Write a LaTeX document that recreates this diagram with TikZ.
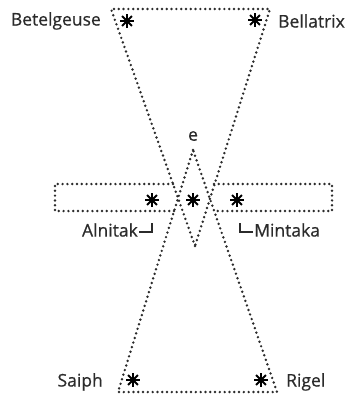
\documentclass[tikz,border=0pt]{standalone}
\usepackage{fontspec}
\setmainfont{Open Sans}
\newfontfamily\labelfont{Open Sans}[FakeBold=0.6]
\definecolor{ink}{HTML}{2B2B2B}
\tikzset{
  dotline/.style={draw=ink, line width=2.7pt, line cap=round, dash pattern=on 0pt off 4.8pt},
  starmark/.style={circle, minimum size=15pt, inner sep=0pt, path picture={
    \foreach \a in {0,45,90,135}
      \draw[line width=1.8pt] (path picture bounding box.center) ++(\a:7pt) -- ++(\a+180:14pt);
    \fill (path picture bounding box.center) circle (2.8pt);}},
  starname/.style={text=ink, font=\labelfont\fontsize{17.5}{17.5}\selectfont, inner sep=0pt},
  hook/.style={draw=ink, line width=1.6pt}
}
\begin{document}
\begin{tikzpicture}[x=1pt, y=-1pt]
\useasboundingbox (0,0) rectangle (352,399);
% triangolo superiore
\coordinate (tl) at (111,9);
\coordinate (tr) at (270,9);
\coordinate (tapex) at (195,246);
\draw[dotline] (tapex) -- (tl) -- (tr) -- cycle;
% triangolo inferiore
\coordinate (bl) at (118,392);
\coordinate (br) at (277,392);
\coordinate (bapex) at (193,150);
\draw[dotline] (bapex) -- (bl) -- (br) -- cycle;
% cintura
\draw[dotline] (173,184) -- (55,184) -- (55,211) -- (174,211);
\draw[dotline] (214,184) -- (332,184) -- (332,211) -- (214,211);
% stelle
\node[starmark] (betelgeuse) at (127,21) {};
\node[starmark] (bellatrix) at (255,20) {};
\node[starmark] (alnitak) at (152,200) {};
\node[starmark] (alnilam) at (193,200) {};
\node[starmark] (mintaka) at (237,200) {};
\node[starmark] (saiph) at (133,380) {};
\node[starmark] (rigel) at (261,380) {};
% nomi
\node[starname, anchor=east] (lbetelgeuse) at (101,21) {Betelgeuse};
\node[starname, anchor=west] (lbellatrix) at (278,21) {Bellatrix};
\node[starname, anchor=east] (lalnitak) at (138,230) {Alnitak};
\node[starname, anchor=west] (lmintaka) at (254,230) {Mintaka};
\node[starname, anchor=east] (lsaiph) at (103,382) {Saiph};
\node[starname, anchor=west] (lrigel) at (286,382) {Rigel};
\node[starname] (le) at (193,136) {e};
\draw[hook] ([xshift=1pt, yshift=-2pt]lalnitak.east) -- ++(13,0) -- ++(0,-9);
\draw[hook] ([xshift=-1pt, yshift=-2pt]lmintaka.west) -- ++(-13,0) -- ++(0,-9);
\end{tikzpicture}
\end{document}
